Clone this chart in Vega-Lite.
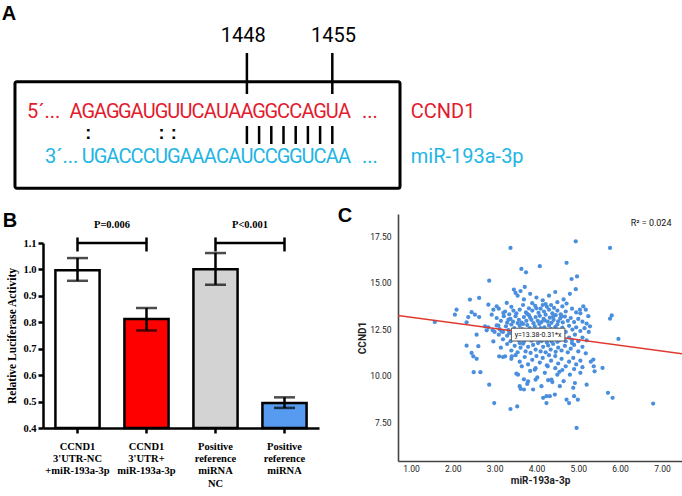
{
 "$schema": "https://vega.github.io/schema/vega-lite/v6.json",
 "width": 682, "height": 496,
 "autosize": {"type": "none"},
 "padding": 0,
 "background": "white",
 "config": {"view": {"stroke": null}},
 "resolve": {"scale": {"x": "independent", "y": "independent", "color": "independent"}},
 "datasets": {
  "bars": [
   {"cond":"CCND1|3'UTR-NC|+miR-193a-3p","grp":"g1","mean":0.997,"lo":0.957,"hi":1.043},
   {"cond":"CCND1|3'UTR+|miR-193a-3p","grp":"g2","mean":0.812,"lo":0.769,"hi":0.854},
   {"cond":"Positive|reference|miRNA|NC","grp":"g3","mean":1.001,"lo":0.942,"hi":1.062},
   {"cond":"Positive|reference|miRNA","grp":"g4","mean":0.495,"lo":0.476,"hi":0.516}
  ],
  "brackets": [
   {"a":"CCND1|3'UTR-NC|+miR-193a-3p","b":"CCND1|3'UTR+|miR-193a-3p","p":"P=0.006","yb":1.1,"c1":1.068,"c2":1.121,"yp":1.168},
   {"a":"Positive|reference|miRNA|NC","b":"Positive|reference|miRNA","p":"P<0.001","yb":1.1,"c1":1.068,"c2":1.121,"yp":1.168}
  ]
 },
 "layer": [
  {
   "data": {"values": [
    {"kind":"box","u":-4.51,"u2":27.05,"v":8.17,"v2":18.83},
    {"kind":"line","u":14.5,"v":5.3,"v2":9.4},
    {"kind":"line","u":21.5,"v":5.3,"v2":9.4},
    {"kind":"line","u":14.5,"v":12.6,"v2":14.4},
    {"kind":"line","u":15.5,"v":12.6,"v2":14.4},
    {"kind":"line","u":16.5,"v":12.6,"v2":14.4},
    {"kind":"line","u":17.5,"v":12.6,"v2":14.4},
    {"kind":"line","u":18.5,"v":12.6,"v2":14.4},
    {"kind":"line","u":19.5,"v":12.6,"v2":14.4},
    {"kind":"line","u":20.5,"v":12.6,"v2":14.4},
    {"kind":"line","u":21.5,"v":12.6,"v2":14.4},
    {"kind":"num","u":14.2,"v":4.2,"t":"1448"},
    {"kind":"num","u":21.6,"v":4.2,"t":"1455"},
    {"kind":"colon","u":1.5,"v":13.4,"t":":"},
    {"kind":"colon","u":7.5,"v":13.4,"t":":"},
    {"kind":"colon","u":8.5,"v":13.4,"t":":"},
    {"kind":"label","s":"CCND1","u":-3.52,"v":11.8,"t":"5´..."},
    {"kind":"label","s":"miR","u":-2.05,"v":16.3,"t":"3´..."},
    {"kind":"label","s":"CCND1","u":23.93,"v":11.8,"t":"..."},
    {"kind":"label","s":"miR","u":23.93,"v":16.3,"t":"..."},
    {"kind":"label","s":"CCND1","u":27.93,"v":11.8,"t":"CCND1"},
    {"kind":"label","s":"miR","u":27.93,"v":16.3,"t":"miR-193a-3p"},
    {"kind":"panel","u":-5.0,"v":1.35,"t":"A"},
    {"kind":"panel","u":-4.92,"v":22.05,"t":"B"},
    {"kind":"panel","u":22.54,"v":21.6,"t":"C"},
    {"kind":"seq","s":"CCND1","u":0.5,"v":11.8,"t":"A"},
    {"kind":"seq","s":"CCND1","u":1.5,"v":11.8,"t":"G"},
    {"kind":"seq","s":"CCND1","u":2.5,"v":11.8,"t":"A"},
    {"kind":"seq","s":"CCND1","u":3.5,"v":11.8,"t":"G"},
    {"kind":"seq","s":"CCND1","u":4.5,"v":11.8,"t":"G"},
    {"kind":"seq","s":"CCND1","u":5.5,"v":11.8,"t":"A"},
    {"kind":"seq","s":"CCND1","u":6.5,"v":11.8,"t":"U"},
    {"kind":"seq","s":"CCND1","u":7.5,"v":11.8,"t":"G"},
    {"kind":"seq","s":"CCND1","u":8.5,"v":11.8,"t":"U"},
    {"kind":"seq","s":"CCND1","u":9.5,"v":11.8,"t":"U"},
    {"kind":"seq","s":"CCND1","u":10.5,"v":11.8,"t":"C"},
    {"kind":"seq","s":"CCND1","u":11.5,"v":11.8,"t":"A"},
    {"kind":"seq","s":"CCND1","u":12.5,"v":11.8,"t":"U"},
    {"kind":"seq","s":"CCND1","u":13.5,"v":11.8,"t":"A"},
    {"kind":"seq","s":"CCND1","u":14.5,"v":11.8,"t":"A"},
    {"kind":"seq","s":"CCND1","u":15.5,"v":11.8,"t":"G"},
    {"kind":"seq","s":"CCND1","u":16.5,"v":11.8,"t":"G"},
    {"kind":"seq","s":"CCND1","u":17.5,"v":11.8,"t":"C"},
    {"kind":"seq","s":"CCND1","u":18.5,"v":11.8,"t":"C"},
    {"kind":"seq","s":"CCND1","u":19.5,"v":11.8,"t":"A"},
    {"kind":"seq","s":"CCND1","u":20.5,"v":11.8,"t":"G"},
    {"kind":"seq","s":"CCND1","u":21.5,"v":11.8,"t":"U"},
    {"kind":"seq","s":"CCND1","u":22.5,"v":11.8,"t":"A"},
    {"kind":"seq","s":"miR","u":1.5,"v":16.3,"t":"U"},
    {"kind":"seq","s":"miR","u":2.5,"v":16.3,"t":"G"},
    {"kind":"seq","s":"miR","u":3.5,"v":16.3,"t":"A"},
    {"kind":"seq","s":"miR","u":4.5,"v":16.3,"t":"C"},
    {"kind":"seq","s":"miR","u":5.5,"v":16.3,"t":"C"},
    {"kind":"seq","s":"miR","u":6.5,"v":16.3,"t":"C"},
    {"kind":"seq","s":"miR","u":7.5,"v":16.3,"t":"U"},
    {"kind":"seq","s":"miR","u":8.5,"v":16.3,"t":"G"},
    {"kind":"seq","s":"miR","u":9.5,"v":16.3,"t":"A"},
    {"kind":"seq","s":"miR","u":10.5,"v":16.3,"t":"A"},
    {"kind":"seq","s":"miR","u":11.5,"v":16.3,"t":"A"},
    {"kind":"seq","s":"miR","u":12.5,"v":16.3,"t":"C"},
    {"kind":"seq","s":"miR","u":13.5,"v":16.3,"t":"A"},
    {"kind":"seq","s":"miR","u":14.5,"v":16.3,"t":"U"},
    {"kind":"seq","s":"miR","u":15.5,"v":16.3,"t":"C"},
    {"kind":"seq","s":"miR","u":16.5,"v":16.3,"t":"C"},
    {"kind":"seq","s":"miR","u":17.5,"v":16.3,"t":"G"},
    {"kind":"seq","s":"miR","u":18.5,"v":16.3,"t":"G"},
    {"kind":"seq","s":"miR","u":19.5,"v":16.3,"t":"U"},
    {"kind":"seq","s":"miR","u":20.5,"v":16.3,"t":"C"},
    {"kind":"seq","s":"miR","u":21.5,"v":16.3,"t":"A"},
    {"kind":"seq","s":"miR","u":22.5,"v":16.3,"t":"A"}
   ]},
   "encoding": {
    "x": {"field":"u","type":"quantitative","scale":{"domain":[0,23],"range":[70,350.6],"nice":false,"zero":false},"axis":null},
    "y": {"field":"v","type":"quantitative","scale":{"domain":[0,49.6],"range":[0,496],"nice":false,"zero":false},"axis":null}
   },
   "layer": [
    {"transform":[{"filter":"datum.kind==='box'"}],
     "mark":{"type":"rect","fill":"transparent","stroke":"black","strokeWidth":3,"cornerRadius":2},
     "encoding":{"x2":{"field":"u2"},"y2":{"field":"v2"}}},
    {"transform":[{"filter":"datum.kind==='line'"}],
     "mark":{"type":"rule","color":"black","strokeWidth":2.5},
     "encoding":{"y2":{"field":"v2"}}},
    {"transform":[{"filter":"datum.kind==='seq'"}],
     "mark":{"type":"text","font":"Roboto","fontSize":20,"align":"center","baseline":"alphabetic"},
     "encoding":{"text":{"field":"t"},"color":{"field":"s","type":"nominal","scale":{"domain":["CCND1","miR"],"range":["#e31b2e","#22b5e3"]},"legend":null}}},
    {"transform":[{"filter":"datum.kind==='label'"}],
     "mark":{"type":"text","font":"Roboto","fontSize":20,"align":"left","baseline":"alphabetic"},
     "encoding":{"text":{"field":"t"},"color":{"field":"s","type":"nominal","scale":{"domain":["CCND1","miR"],"range":["#e31b2e","#22b5e3"]},"legend":null}}},
    {"transform":[{"filter":"datum.kind==='num'"}],
     "mark":{"type":"text","font":"Roboto","fontSize":20,"align":"center","baseline":"alphabetic","color":"black"},
     "encoding":{"text":{"field":"t"}}},
    {"transform":[{"filter":"datum.kind==='colon'"}],
     "mark":{"type":"text","font":"Liberation Sans","fontSize":18,"fontWeight":"bold","align":"center","baseline":"middle","color":"black"},
     "encoding":{"text":{"field":"t"}}},
    {"transform":[{"filter":"datum.kind==='panel'"}],
     "mark":{"type":"text","font":"Liberation Sans","fontSize":20,"fontWeight":"bold","align":"center","baseline":"middle","color":"black"},
     "encoding":{"text":{"field":"t"}}}
   ]
  },
  {"data":{"name":"bars"},
   "mark":{"type":"bar","stroke":"black","strokeWidth":2.5},
   "encoding":{
    "x": {"field":"cond","type":"nominal","sort":null,
          "scale":{"domain":["CCND1|3'UTR-NC|+miR-193a-3p","CCND1|3'UTR+|miR-193a-3p","Positive|reference|miRNA|NC","Positive|reference|miRNA"],"range":[43,319],"paddingInner":0.36,"paddingOuter":0.18},
          "axis":{"orient":"bottom","offset":-68,"title":null,"labelAngle":0,"labelExpr":"split(datum.label, '|')","labelFont":"Liberation Serif","labelFontWeight":"bold","labelFontSize":10.5,"labelColor":"black","labelLineHeight":12.4,"labelPadding":8,"tickSize":5,"tickWidth":2.5,"tickColor":"black","domainColor":"black","domainWidth":2.5,"grid":false}},
    "y": {"field":"mean","type":"quantitative","scale":{"domain":[0.4,1.1],"range":[428,243],"nice":false,"zero":false},
          "axis":{"orient":"left","offset":-43,"values":[0.4,0.5,0.6,0.7,0.8,0.9,1.0,1.1],"format":".1f","title":"Relative Luciferase Activity","titleFont":"Liberation Serif","titleFontWeight":"bold","titleFontSize":11.5,"titleColor":"black","titleX":-31,"titleBaseline":"middle","labelFont":"Liberation Serif","labelFontWeight":"bold","labelFontSize":10.5,"labelColor":"black","labelPadding":2,"tickSize":5,"tickWidth":2.5,"tickColor":"black","domainColor":"black","domainWidth":2.5,"grid":false}},
    "y2":{"datum":0.4},
    "color":{"field":"grp","type":"nominal","scale":{"domain":["g1","g2","g3","g4"],"range":["#ffffff","#ff0000","#d3d3d3","#569bef"]},"legend":null}}},
  {"data":{"name":"bars"},
   "encoding":{
    "x": {"field":"cond","type":"nominal","sort":null,"scale":{"domain":["CCND1|3'UTR-NC|+miR-193a-3p","CCND1|3'UTR+|miR-193a-3p","Positive|reference|miRNA|NC","Positive|reference|miRNA"],"range":[43,319],"paddingInner":0.36,"paddingOuter":0.18},"axis":null}
   },
   "layer":[
    {"mark":{"type":"rule","color":"black","strokeWidth":2.5},
     "encoding":{"y":{"field":"lo","type":"quantitative","scale":{"domain":[0.4,1.1],"range":[428,243],"nice":false,"zero":false},"axis":null},"y2":{"field":"hi"}}},
    {"mark":{"type":"tick","color":"black","size":21,"thickness":2.5},
     "encoding":{"y":{"field":"lo","type":"quantitative","scale":{"domain":[0.4,1.1],"range":[428,243],"nice":false,"zero":false},"axis":null}}},
    {"mark":{"type":"tick","color":"black","size":21,"thickness":2.5},
     "encoding":{"y":{"field":"hi","type":"quantitative","scale":{"domain":[0.4,1.1],"range":[428,243],"nice":false,"zero":false},"axis":null}}}
   ]},
  {"data":{"name":"brackets"},
   "encoding":{
    "y": {"field":"yb","type":"quantitative","scale":{"domain":[0.4,1.1],"range":[428,243],"nice":false,"zero":false},"axis":null}
   },
   "layer":[
    {"mark":{"type":"rule","color":"black","strokeWidth":2.5},
     "encoding":{"x":{"field":"a","type":"nominal","bandPosition":0.5,"scale":{"domain":["CCND1|3'UTR-NC|+miR-193a-3p","CCND1|3'UTR+|miR-193a-3p","Positive|reference|miRNA|NC","Positive|reference|miRNA"],"range":[43,319],"paddingInner":0.36,"paddingOuter":0.18},"axis":null},"x2":{"field":"b","bandPosition":0.5}}},
    {"mark":{"type":"rule","color":"black","strokeWidth":2.5},
     "encoding":{"x":{"field":"a","type":"nominal","bandPosition":0.5,"axis":null},"y":{"field":"c1","type":"quantitative","axis":null},"y2":{"field":"c2"}}},
    {"mark":{"type":"rule","color":"black","strokeWidth":2.5},
     "encoding":{"x":{"field":"b","type":"nominal","bandPosition":0.5,"axis":null},"y":{"field":"c1","type":"quantitative","axis":null},"y2":{"field":"c2"}}},
    {"mark":{"type":"text","font":"Liberation Serif","fontWeight":"bold","fontSize":10.5,"color":"black","align":"center","baseline":"middle"},
     "encoding":{"x":{"field":"a","type":"nominal","bandPosition":1.281,"axis":null},"y":{"field":"yp","type":"quantitative","axis":null},"text":{"field":"p"}}}
   ]},
  {
   "encoding": {
    "x": {"field":"x","type":"quantitative","scale":{"domain":[0.69,7.48],"range":[398,682],"nice":false,"zero":false},
          "axis":{"orient":"bottom","offset":-35,"values":[1,2,3,4,5,6,7],"format":".2f","ticks":false,"grid":false,"labelPadding":3,"labelFont":"Roboto","labelFontSize":8.5,"labelColor":"#222","domainColor":"#444","domainWidth":1.6,"title":"miR-193a-3p","titleFont":"Roboto","titleFontWeight":"bold","titleFontSize":10,"titleColor":"#222","titleY":19,"titleBaseline":"middle"}},
    "y": {"field":"y","type":"quantitative","scale":{"domain":[5.4,18.7],"range":[461,214],"nice":false,"zero":false},
          "axis":{"orient":"left","offset":-398,"values":[7.5,10,12.5,15,17.5],"format":".2f","ticks":false,"grid":false,"labelPadding":7,"labelFont":"Roboto","labelFontSize":8.5,"labelColor":"#222","domainColor":"#444","domainWidth":1.6,"title":"CCND1","titleFont":"Roboto","titleFontWeight":"bold","titleFontSize":10,"titleColor":"#222","titleX":-36,"titleBaseline":"middle"}}
   },
   "layer": [
    {"data":{"values":[
      {"x":1.57,"y":12.89},{"x":2.05,"y":13.28},{"x":2.09,"y":13.55},{"x":2.37,"y":13.15},{"x":2.33,"y":12.87},{"x":2.41,"y":14.09},{"x":2.45,"y":13.41},{"x":2.33,"y":11.61},{"x":2.45,"y":11.22},{"x":2.49,"y":11.04},
      {"x":2.5,"y":10.18},{"x":2.57,"y":12.2},{"x":2.61,"y":11.58},{"x":2.57,"y":10.9},{"x":2.53,"y":13.28},{"x":2.63,"y":14.18},{"x":2.66,"y":10.18},{"x":2.63,"y":13.15},{"x":2.77,"y":12.65},{"x":2.81,"y":12.44},
      {"x":2.87,"y":15.11},{"x":2.87,"y":9.51},{"x":2.93,"y":13.28},{"x":2.85,"y":13.82},{"x":2.97,"y":13.55},{"x":2.99,"y":8.52},{"x":2.97,"y":11.84},{"x":3.05,"y":13.73},{"x":3.09,"y":12.69},{"x":3.11,"y":11.04},
      {"x":3.17,"y":12.38},{"x":3.21,"y":13.37},{"x":3.25,"y":11.04},{"x":3.29,"y":13.91},{"x":3.33,"y":13.01},{"x":3.38,"y":16.87},{"x":3.38,"y":8.2},{"x":3.41,"y":11.04},{"x":3.45,"y":12.38},{"x":3.46,"y":14.63},
      {"x":3.5,"y":14.45},{"x":3.54,"y":8.34},{"x":3.56,"y":10.05},{"x":3.6,"y":9.43},{"x":3.62,"y":9.29},{"x":3.64,"y":15.74},{"x":3.7,"y":9.25},{"x":3.75,"y":15.56},{"x":3.72,"y":14.77},{"x":3.8,"y":9.69},
      {"x":3.98,"y":9.78},{"x":4.08,"y":15.89},{"x":3.92,"y":9.25},{"x":3.96,"y":10.32},{"x":4.12,"y":9.43},{"x":4.16,"y":8.8},{"x":4.24,"y":8.89},{"x":4.27,"y":10.5},{"x":4.24,"y":8.52},{"x":4.32,"y":8.89},
      {"x":4.36,"y":9.78},{"x":4.44,"y":8.98},{"x":4.5,"y":10.05},{"x":4.56,"y":9.43},{"x":4.72,"y":16.07},{"x":4.72,"y":8.7},{"x":4.78,"y":8.52},{"x":4.84,"y":15.2},{"x":4.88,"y":9.34},{"x":4.9,"y":8.89},
      {"x":4.94,"y":17.23},{"x":4.94,"y":14.65},{"x":4.96,"y":7.18},{"x":4.97,"y":15.34},{"x":4.99,"y":8.7},{"x":5.04,"y":13.55},{"x":5.12,"y":13.73},{"x":5.18,"y":13.55},{"x":5.2,"y":9.51},{"x":5.24,"y":13.2},
      {"x":5.28,"y":12.65},{"x":5.36,"y":10.86},{"x":5.37,"y":10.5},{"x":5.39,"y":10.23},{"x":5.58,"y":10.41},{"x":5.71,"y":9.07},{"x":5.76,"y":16.87},{"x":5.76,"y":13.06},{"x":5.8,"y":13.24},{"x":5.82,"y":8.8},
      {"x":5.96,"y":11.97},{"x":6.79,"y":8.49},
      {"x":3.55,"y":14.3},{"x":3.7,"y":14.1},{"x":3.85,"y":14.4},{"x":4.0,"y":14.2},{"x":4.15,"y":14.05},{"x":4.3,"y":14.3},{"x":4.5,"y":13.95},{"x":4.65,"y":14.1},{"x":4.8,"y":14.4},{"x":3.9,"y":13.9},
      {"x":4.45,"y":14.5},{"x":3.62,"y":14.55},{"x":4.22,"y":13.85},{"x":4.72,"y":13.88},
      {"x":3.1,"y":13.6},{"x":3.25,"y":13.45},{"x":3.4,"y":13.7},{"x":3.52,"y":13.35},{"x":3.6,"y":13.55},{"x":3.68,"y":13.8},{"x":3.75,"y":13.4},{"x":3.82,"y":13.62},{"x":3.9,"y":13.5},{"x":3.97,"y":13.75},
      {"x":4.05,"y":13.38},{"x":4.1,"y":13.6},{"x":4.18,"y":13.45},{"x":4.25,"y":13.7},{"x":4.3,"y":13.55},{"x":4.38,"y":13.35},{"x":4.42,"y":13.65},{"x":4.5,"y":13.5},{"x":4.58,"y":13.3},{"x":4.62,"y":13.72},
      {"x":4.7,"y":13.45},{"x":4.85,"y":13.6},{"x":4.95,"y":13.4},{"x":5.05,"y":13.35},{"x":3.35,"y":13.3},{"x":3.45,"y":13.5},{"x":4.0,"y":13.62},{"x":4.35,"y":13.8},{"x":3.78,"y":13.32},{"x":4.15,"y":13.8},
      {"x":3.05,"y":13.1},{"x":3.15,"y":12.95},{"x":3.22,"y":13.2},{"x":3.3,"y":12.85},{"x":3.38,"y":13.05},{"x":3.44,"y":12.9},{"x":3.5,"y":13.2},{"x":3.58,"y":13.0},{"x":3.64,"y":12.85},{"x":3.7,"y":13.15},
      {"x":3.76,"y":12.95},{"x":3.82,"y":13.25},{"x":3.88,"y":13.0},{"x":3.93,"y":12.82},{"x":3.98,"y":13.15},{"x":4.03,"y":12.95},{"x":4.08,"y":13.22},{"x":4.12,"y":12.88},{"x":4.17,"y":13.05},{"x":4.22,"y":13.28},
      {"x":4.27,"y":12.9},{"x":4.32,"y":13.12},{"x":4.36,"y":12.84},{"x":4.41,"y":13.0},{"x":4.46,"y":13.25},{"x":4.52,"y":12.92},{"x":4.57,"y":13.08},{"x":4.63,"y":12.86},{"x":4.68,"y":13.18},{"x":4.75,"y":12.95},
      {"x":4.82,"y":13.1},{"x":4.9,"y":12.88},{"x":5.0,"y":13.05},{"x":5.1,"y":12.9},{"x":5.2,"y":12.8},{"x":3.55,"y":12.83},{"x":3.85,"y":13.12},{"x":4.2,"y":12.97},{"x":4.6,"y":13.2},{"x":4.4,"y":13.18},
      {"x":2.85,"y":12.6},{"x":2.95,"y":12.45},{"x":3.05,"y":12.7},{"x":3.12,"y":12.5},{"x":3.2,"y":12.35},{"x":3.27,"y":12.65},{"x":3.33,"y":12.45},{"x":3.4,"y":12.75},{"x":3.47,"y":12.55},{"x":3.53,"y":12.38},
      {"x":3.6,"y":12.68},{"x":3.66,"y":12.5},{"x":3.72,"y":12.32},{"x":3.78,"y":12.72},{"x":3.84,"y":12.55},{"x":3.9,"y":12.4},{"x":3.96,"y":12.65},{"x":4.02,"y":12.48},{"x":4.07,"y":12.78},{"x":4.13,"y":12.35},
      {"x":4.19,"y":12.6},{"x":4.24,"y":12.45},{"x":4.3,"y":12.7},{"x":4.35,"y":12.52},{"x":4.4,"y":12.33},{"x":4.45,"y":12.62},{"x":4.5,"y":12.75},{"x":4.55,"y":12.42},{"x":4.62,"y":12.58},{"x":4.7,"y":12.35},
      {"x":4.78,"y":12.68},{"x":4.86,"y":12.48},{"x":4.95,"y":12.6},{"x":5.05,"y":12.4},{"x":5.15,"y":12.55},{"x":5.25,"y":12.35},{"x":3.0,"y":12.35},{"x":3.68,"y":12.78},{"x":4.1,"y":12.55},{"x":4.48,"y":12.5},
      {"x":3.1,"y":12.2},{"x":3.2,"y":11.95},{"x":3.3,"y":12.15},{"x":3.38,"y":11.85},{"x":3.45,"y":12.05},{"x":3.52,"y":12.25},{"x":3.58,"y":11.9},{"x":3.64,"y":12.1},{"x":3.7,"y":11.82},{"x":3.76,"y":12.0},
      {"x":3.82,"y":12.22},{"x":3.88,"y":11.88},{"x":3.94,"y":12.08},{"x":4.0,"y":11.95},{"x":4.06,"y":12.2},{"x":4.12,"y":11.85},{"x":4.18,"y":12.05},{"x":4.24,"y":11.92},{"x":4.3,"y":12.18},{"x":4.36,"y":11.83},
      {"x":4.42,"y":12.02},{"x":4.48,"y":12.22},{"x":4.55,"y":11.9},{"x":4.62,"y":12.1},{"x":4.7,"y":11.85},{"x":4.78,"y":12.05},{"x":4.85,"y":11.92},{"x":4.92,"y":12.2},{"x":5.0,"y":11.85},{"x":5.1,"y":12.05},
      {"x":5.2,"y":11.9},{"x":3.35,"y":12.28},{"x":4.5,"y":11.82},{"x":3.9,"y":12.28},
      {"x":3.15,"y":11.5},{"x":3.3,"y":11.7},{"x":3.4,"y":11.35},{"x":3.48,"y":11.6},{"x":3.55,"y":11.25},{"x":3.62,"y":11.5},{"x":3.68,"y":11.72},{"x":3.74,"y":11.3},{"x":3.8,"y":11.55},{"x":3.86,"y":11.22},
      {"x":3.92,"y":11.65},{"x":3.98,"y":11.4},{"x":4.04,"y":11.75},{"x":4.1,"y":11.3},{"x":4.16,"y":11.55},{"x":4.22,"y":11.25},{"x":4.28,"y":11.62},{"x":4.34,"y":11.4},{"x":4.4,"y":11.7},{"x":4.46,"y":11.28},
      {"x":4.52,"y":11.5},{"x":4.6,"y":11.35},{"x":4.68,"y":11.6},{"x":4.75,"y":11.25},{"x":4.82,"y":11.45},{"x":4.9,"y":11.65},{"x":5.0,"y":11.3},{"x":5.1,"y":11.55},{"x":5.18,"y":11.2},{"x":3.6,"y":11.75},
      {"x":4.25,"y":11.78},{"x":4.85,"y":11.75},
      {"x":3.2,"y":11.0},{"x":3.4,"y":10.9},{"x":3.5,"y":11.1},{"x":3.6,"y":10.75},{"x":3.72,"y":11.0},{"x":3.8,"y":10.6},{"x":3.9,"y":10.85},{"x":4.0,"y":11.05},{"x":4.08,"y":10.7},{"x":4.15,"y":10.95},
      {"x":4.25,"y":10.55},{"x":4.35,"y":10.8},{"x":4.45,"y":11.05},{"x":4.52,"y":10.65},{"x":4.6,"y":10.9},{"x":4.7,"y":10.5},{"x":4.78,"y":10.75},{"x":4.88,"y":10.95},{"x":4.95,"y":10.6},{"x":5.05,"y":10.8},
      {"x":5.3,"y":10.75},{"x":3.65,"y":10.5},{"x":4.3,"y":11.1},{"x":4.62,"y":10.3},{"x":4.9,"y":10.35},{"x":5.1,"y":10.45},
      {"x":3.52,"y":10.1},{"x":3.7,"y":9.8},{"x":3.85,"y":10.25},{"x":4.02,"y":9.9},{"x":4.2,"y":10.15},{"x":4.38,"y":9.65},{"x":4.55,"y":10.2},{"x":4.65,"y":9.7},{"x":4.8,"y":10.05},{"x":4.92,"y":9.6},
      {"x":5.05,"y":10.15},{"x":3.98,"y":10.4},{"x":4.45,"y":10.4},{"x":3.78,"y":9.55},{"x":4.28,"y":9.75}
     ]},
     "mark":{"type":"circle","size":18,"opacity":1,"color":"#4a8ede"}},
    {"data":{"values":[{"x":0.69,"y":13.24},{"x":7.48,"y":11.18}]},
     "mark":{"type":"line","color":"#e03a30","strokeWidth":1.5}},
    {"data":{"values":[{"x":3.4,"x2":4.68,"y":12.55,"y2":11.86}]},
     "mark":{"type":"rect","fill":"white","stroke":"#555","strokeWidth":1},
     "encoding":{"x2":{"field":"x2"},"y2":{"field":"y2"}}},
    {"data":{"values":[{"x":4.04,"y":12.2,"t":"y=13.38-0.31*x"}]},
     "mark":{"type":"text","font":"Roboto","fontSize":7,"color":"#111","align":"center","baseline":"middle"},
     "encoding":{"text":{"field":"t"}}},
    {"data":{"values":[{"x":6.74,"y":18.22,"t":"R² = 0.024"}]},
     "mark":{"type":"text","font":"Roboto","fontSize":9,"color":"#111","align":"center","baseline":"middle"},
     "encoding":{"text":{"field":"t"}}}
   ]
  }
 ]
}
